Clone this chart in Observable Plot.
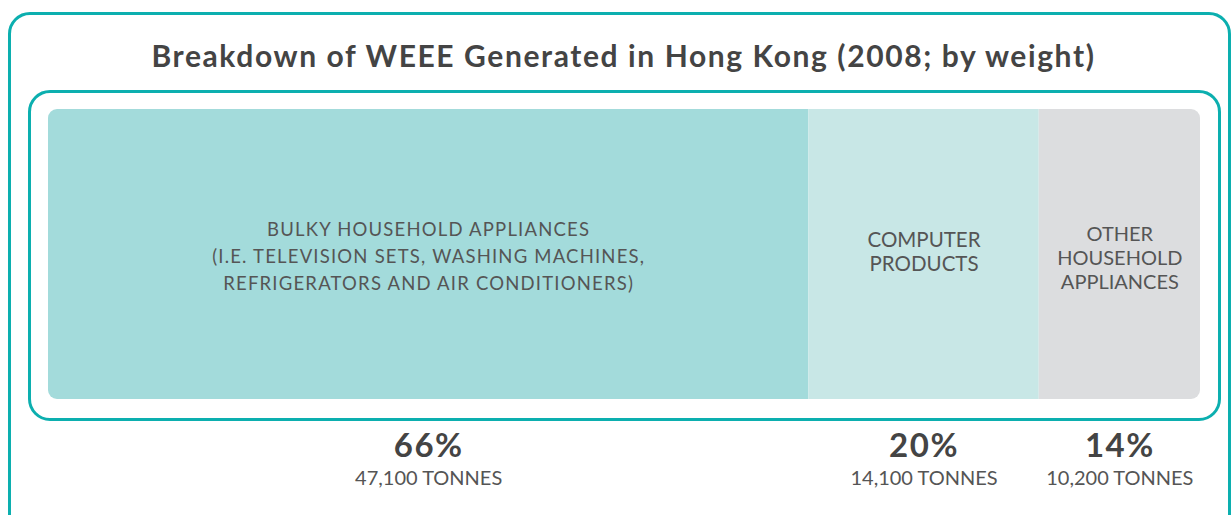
<!DOCTYPE html>
<html>
<head>
<meta charset="utf-8">
<script src="https://cdn.jsdelivr.net/npm/d3@7"></script>
<script src="https://cdn.jsdelivr.net/npm/@observablehq/plot@0.6"></script>
<style>
  html, body { margin: 0; padding: 0; background: #fff; }
  #wrap { position: relative; width: 1232px; height: 515px; overflow: hidden; font-family: Lato, "Open Sans", sans-serif; }
  .outer { position: absolute; left: 8px; top: 12px; width: 1223px; height: 540px; box-sizing: border-box; border: 3px solid #0cafaf; border-radius: 22px; }
  .inner { position: absolute; left: 28px; top: 90px; width: 1193px; height: 331px; box-sizing: border-box; border: 3px solid #0cafaf; border-radius: 22px; }
  #title { position: absolute; left: 0; width: 1247px; top: 37px; text-align: center; font-weight: 700; font-size: 30px; color: #444; letter-spacing: 1.6px; }
  #chart { position: absolute; left: 0; top: 0; }
</style>
</head>
<body>
<div id="wrap">
  <div class="outer"></div>
  <div class="inner"></div>
  <div id="title">Breakdown of WEEE Generated in Hong Kong (2008; by weight)</div>
  <div id="chart"></div>
</div>
<script>
const categories = ["Bulky household appliances", "Computer products", "Other household appliances"];
const percents = [66, 20, 14];
const tonnes = ["47,100", "14,100", "10,200"];
const barLabels = [
  "BULKY HOUSEHOLD APPLIANCES\n(I.E. TELEVISION SETS, WASHING MACHINES,\nREFRIGERATORS AND AIR CONDITIONERS)",
  "COMPUTER\nPRODUCTS",
  "OTHER\nHOUSEHOLD\nAPPLIANCES"
];
const colors = ["#a3dbdb", "#c8e7e6", "#dcdddf"];

const ends = d3.cumsum(percents);
const data = categories.map((c, i) => ({
  category: c,
  pct: percents[i],
  x1: ends[i] - percents[i],
  x2: ends[i],
  mid: ends[i] - percents[i] / 2,
  label: barLabels[i],
  pctLabel: percents[i] + "%",
  tonLabel: tonnes[i] + " TONNES"
}));

const font = "Lato, 'Open Sans', sans-serif";
const chart = Plot.plot({
  width: 1232,
  height: 515,
  marginLeft: 48,
  marginRight: 32,
  marginTop: 109,
  marginBottom: 116,
  style: { background: "transparent", fontFamily: font },
  x: { domain: [0, 100], axis: null },
  color: { domain: categories, range: colors },
  marks: [
    Plot.barX(data, { x1: "x1", x2: "x2", fill: "category", inset: 0 }),
    Plot.text(data.slice(0, 1), { x: "mid", text: "label", frameAnchor: "middle", lineAnchor: "middle", fontSize: 18.5, lineHeight: 1.46, fill: "#555" }),
    Plot.text(data.slice(1, 2), { x: "mid", text: "label", frameAnchor: "middle", lineAnchor: "middle", fontSize: 20.5, lineHeight: 1.17, dy: -3.5, fill: "#555" }),
    Plot.text(data.slice(2, 3), { x: "mid", text: "label", frameAnchor: "middle", lineAnchor: "middle", fontSize: 20, lineHeight: 1.2, dy: 3, fill: "#555" }),
    Plot.text(data, { x: "mid", text: "pctLabel", frameAnchor: "bottom", lineAnchor: "bottom", dy: 57, fontSize: 33, fontWeight: 700, fill: "#444" }),
    Plot.text(data, { x: "mid", text: "tonLabel", frameAnchor: "bottom", lineAnchor: "bottom", dy: 85, fontSize: 20, fill: "#555" })
  ]
});

// round the outer corners of the stacked bar
const xs = chart.scale("x");
const svg = d3.select(chart);
const bx0 = xs.apply(0), bx1 = xs.apply(100);
svg.insert("defs", ":first-child").append("clipPath").attr("id", "barclip")
  .append("rect").attr("x", bx0).attr("y", 109).attr("width", bx1 - bx0).attr("height", 515 - 116 - 109).attr("rx", 9).attr("ry", 9);
svg.select("g[aria-label='bar']").attr("clip-path", "url(#barclip)");

// widen letter spacing to approximate the original geometric typeface
const textGroups = svg.selectAll("g[aria-label='text']").nodes();
d3.select(textGroups[0]).style("letter-spacing", "1.2px");
d3.select(textGroups[3]).style("letter-spacing", "1.5px");

document.getElementById("chart").appendChild(chart);
</script>
</body>
</html>
